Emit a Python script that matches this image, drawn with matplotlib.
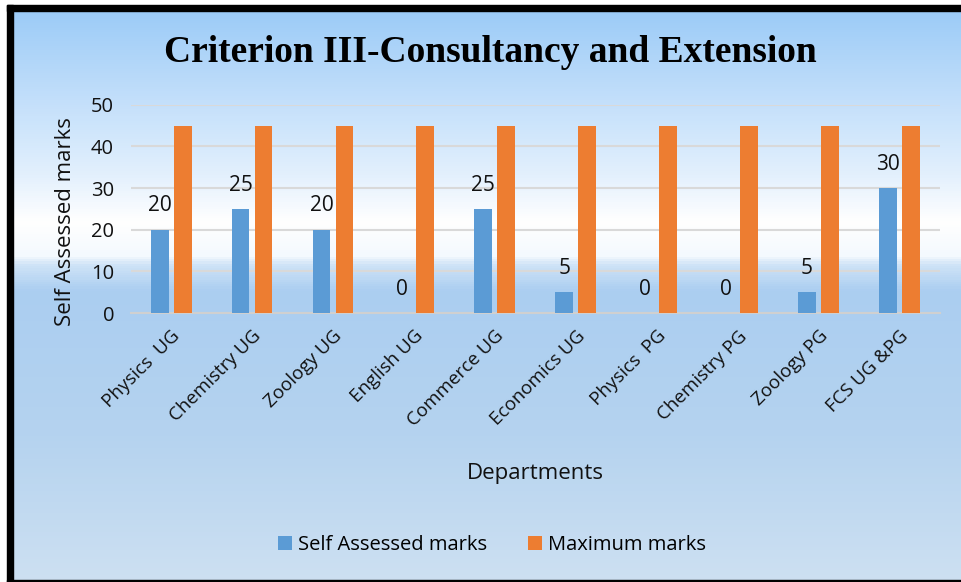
import matplotlib.pyplot as plt
import numpy as np
from matplotlib.colors import LinearSegmentedColormap
from matplotlib.patches import Rectangle

# Criterion III - marks per department

departamentos = ["Physics  UG", "Chemistry UG", "Zoology UG", "English UG", "Commerce UG",
                 "Economics UG", "Physics  PG", "Chemistry PG", "Zoology PG", "FCS UG &PG"]
autoevaluado = [20, 25, 20, 0, 25, 5, 0, 0, 5, 30]
maximo = [45, 45, 45, 45, 45, 45, 45, 45, 45, 45]

plt.rcParams['font.family'] = ['Open Sans', 'DejaVu Sans']

fig = plt.figure(figsize=(9.61, 5.82), dpi=100)

# fondo degradado
bg = fig.add_axes([0, 0, 1, 1], zorder=-2)
cmap = LinearSegmentedColormap.from_list("fondo", [
    (0.0, "#98c9f7"), (0.30, "#e3f0fd"), (0.38, "#ffffff"), (0.44, "#f4f9fe"),
    (0.455, "#cfe3f7"), (0.50, "#abcef1"), (0.75, "#b5d3ef"), (1.0, "#cde0f2")])
grad = np.linspace(0, 1, 582).reshape(-1, 1)
bg.imshow(grad, aspect="auto", cmap=cmap, extent=[0, 961, 582, 0])
bg.set_xlim(0, 961)
bg.set_ylim(582, 0)
bg.axis("off")
# marco negro
bg.add_patch(Rectangle((0, 0), 961, 5, color="white", zorder=3))
bg.add_patch(Rectangle((0, 0), 7, 582, color="white", zorder=3))
bg.add_patch(Rectangle((7, 5), 954, 6, color="black", zorder=4))
bg.add_patch(Rectangle((7, 5), 6, 577, color="black", zorder=4))
bg.add_patch(Rectangle((7, 580), 954, 2, color="black", zorder=4))

ax = fig.add_axes([0.136, 0.462, 0.842, 0.358])
ax.patch.set_alpha(0)

x = np.arange(len(departamentos))
w = 0.22
b1 = ax.bar(x - 0.142, autoevaluado, w, color="#5b9bd5", label="Self Assessed marks", zorder=3)
b2 = ax.bar(x + 0.142, maximo, w, color="#ed7d31", label="Maximum marks", zorder=3)

for xi, v in zip(x, autoevaluado):
    ax.text(xi - 0.142, v + 3.2, str(v), ha="center", va="bottom", fontsize=15, color="#111111")

ax.set_xlim(-0.5, len(departamentos) - 0.5)
ax.set_ylim(0, 50)
ax.set_yticks(range(0, 51, 10))
ax.yaxis.grid(True, color="#d9d9d9", linewidth=1.5, zorder=0)
ax.set_axisbelow(True)
for s in ["top", "right", "left"]:
    ax.spines[s].set_visible(False)
ax.spines["bottom"].set_color("#d0d0d0")
ax.spines["bottom"].set_linewidth(1.5)
ax.tick_params(length=0, labelsize=14.5, colors="#111111")
ax.tick_params(axis="y", pad=12)
ax.set_xticks(x)
ax.set_xticklabels(departamentos, rotation=45, ha="right", rotation_mode="anchor", fontsize=13.5)
ax.tick_params(axis="x", pad=10)

ax.set_ylabel("Self Assessed marks", fontsize=16, color="#111111")
ax.yaxis.set_label_coords(-0.068, 0.44)
fig.text(0.557, 0.186, "Departments", ha="center", va="center", fontsize=16, color="#111111")
fig.text(0.51, 0.91, "Criterion III-Consultancy and Extension", ha="center", va="center",
         fontsize=27, fontweight="bold", family="Liberation Serif")

fig.legend(handles=[b1, b2], loc="center", bbox_to_anchor=(0.512, 0.064), ncol=2,
           frameon=False, fontsize=14.5, handlelength=0.7, handleheight=0.7,
           handletextpad=0.3, columnspacing=2.0)

fig.savefig("out.png", dpi=100)
